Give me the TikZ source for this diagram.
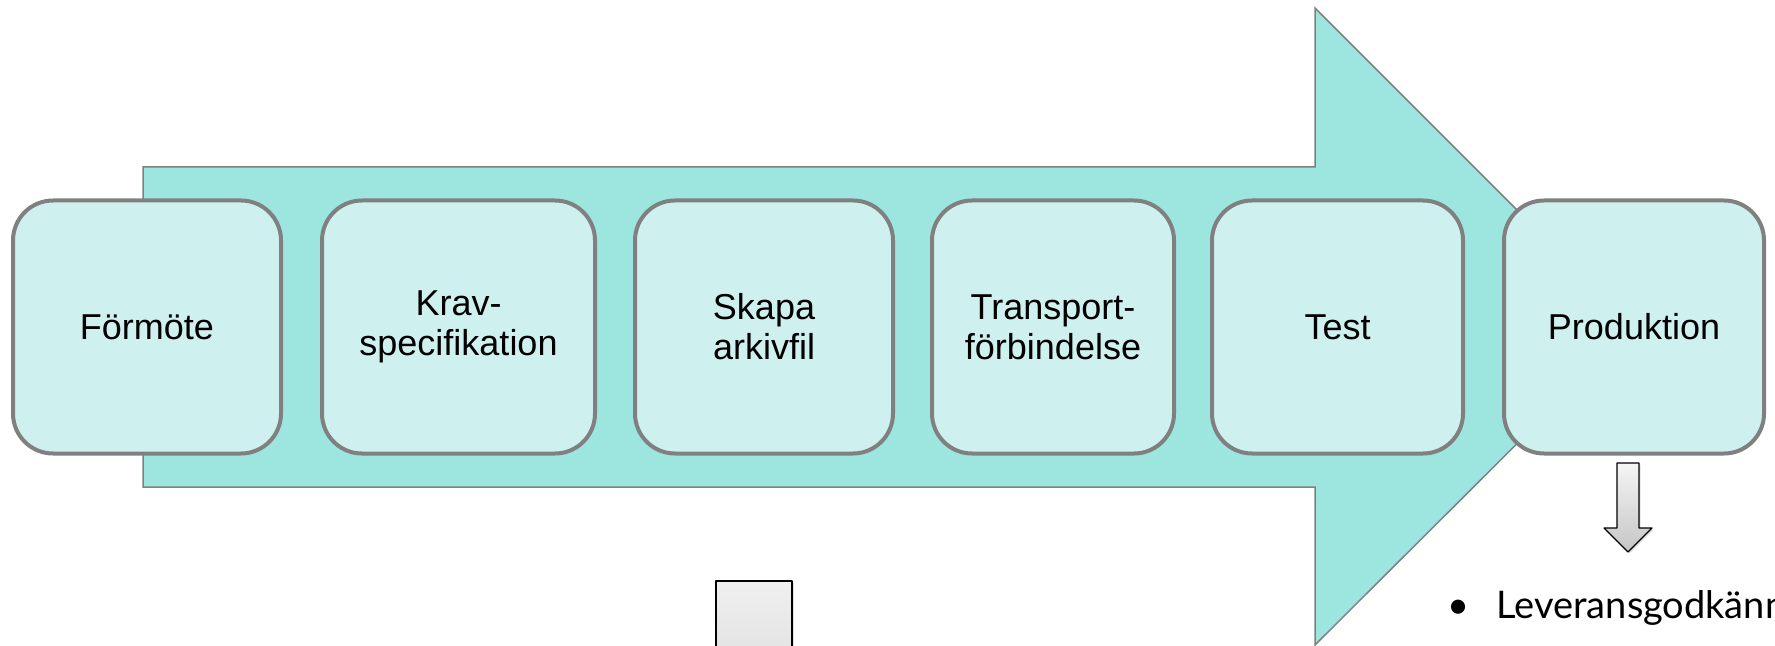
\documentclass[tikz,border=0pt]{standalone}
\usepackage{fontspec}
\setmainfont{Liberation Sans}
\newfontfamily\listfont{Lato}
\usetikzlibrary{arrows}
\usetikzlibrary{shadows}
\definecolor{arrowfill}{RGB}{157,230,223}
\definecolor{boxfill}{RGB}{206,241,239}
\definecolor{boxline}{RGB}{128,128,128}

\begin{document}
\begin{tikzpicture}[line cap=round,line join=round,x=0.5pt,y=-0.5pt,
  stepbox/.style={draw=boxline,line width=2pt,fill=boxfill,rounded corners=20pt,
    align=center,inner sep=0pt,minimum height=126.5pt,font=\fontsize{18}{20}\selectfont},
  greyarrow/.style={draw=black,line width=0.6pt,top color=gray!8,bottom color=gray!45,
    drop shadow={opacity=0.25,shadow xshift=0.8pt,shadow yshift=-0.8pt}}]
\useasboundingbox (0,0) rectangle (1775,646);
\clip(0,0) rectangle (1775,646);
% big process arrow
\draw [draw=boxline,line width=0.75pt,fill=arrowfill,line join=miter] (143,167) -- (1315,167) -- (1315,8) -- (1634,327) -- (1315,645) -- (1315,487) -- (143,487) -- cycle;
% steps
\node [stepbox,minimum width=134pt] (formote) at (147,327) {Förmöte};
\node [stepbox,minimum width=136.5pt] (krav) at (458.5,327) {Krav-\\specifikation};
\node [stepbox,minimum width=129pt] (arkiv) at (764,327) {Skapa\\arkivfil};
\node [stepbox,minimum width=121pt] (transport) at (1053,327) {Transport-\\förbindelse};
\node [stepbox,minimum width=125.5pt] (test) at (1337.5,327) {Test};
\node [stepbox,minimum width=130pt] (produktion) at (1634,327) {Produktion};
% down arrows
\draw [greyarrow] (1617,463) -- (1639,463) -- (1639,528) -- (1652,528) -- (1628,552) -- (1604,528) -- (1617,528) -- cycle;
\draw [greyarrow,top color=gray!12,bottom color=gray!28] (716,581) rectangle (792,700);
\node [anchor=base west,inner sep=0pt,font=\listfont\fontsize{19}{23}\selectfont] (leverans) at (1447,618) {\textbullet\hspace{13.5pt}Leveransgodkänn};
\end{tikzpicture}
\end{document}
